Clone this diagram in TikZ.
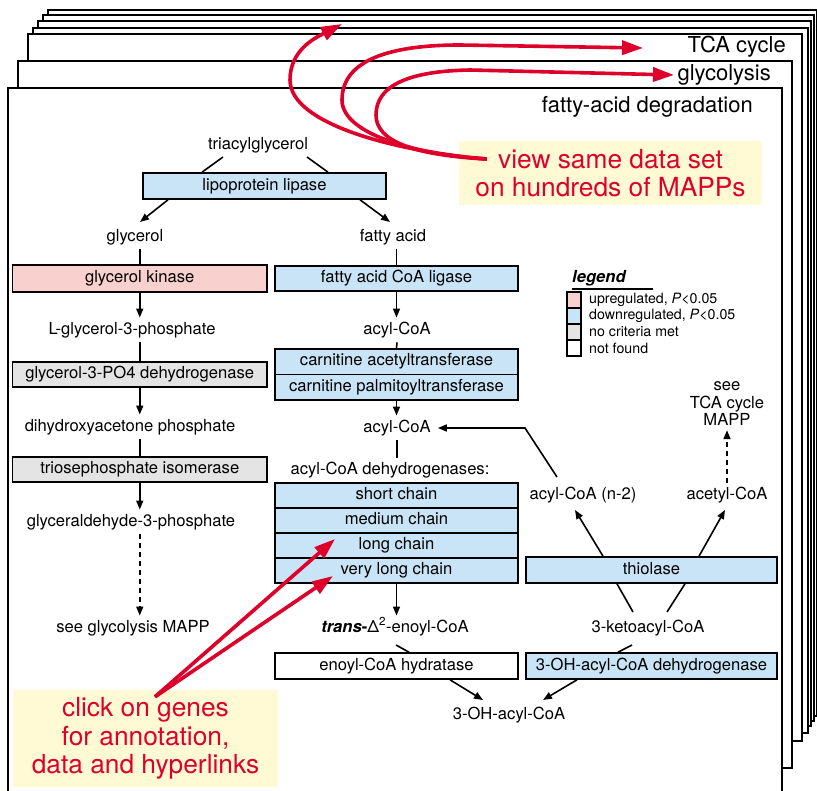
\documentclass[tikz,border=0pt]{standalone}
\usepackage{fontspec}
\setmainfont{TeX Gyre Heros}
\usetikzlibrary{arrows.meta,calc}
\definecolor{mred}{RGB}{222,0,43}
\definecolor{myellow}{RGB}{255,250,212}
\definecolor{mblue}{RGB}{200,228,246}
\definecolor{mpink}{RGB}{248,208,206}
\definecolor{mgray}{RGB}{228,228,228}
\begin{document}
\begin{tikzpicture}[x=1pt,y=-1pt,
  page/.style={draw=black,fill=white,line width=1.9pt},
  ptitle/.style={font=\fontsize{22}{24}\selectfont,inner sep=0pt,anchor=base east},
  txt/.style={font=\fontsize{16.6}{17.5}\selectfont,inner xsep=0pt,inner ysep=4.5pt,text height=12pt,text depth=3.5pt},
  gene/.style={draw=black,line width=1.6pt,inner sep=0pt,minimum height=25.5pt,text height=12pt,text depth=3.5pt,font=\fontsize{16.6}{17.5}\selectfont},
  wl/.style={minimum width=254.5pt},
  wr/.style={minimum width=243pt},
  wf/.style={minimum width=251pt},
  conn/.style={line width=1.6pt},
  arr/.style={conn,-{Triangle[length=9pt,width=7pt]}},
  darr/.style={arr,dash pattern=on 5pt off 4pt},
  redline/.style={draw=mred,line width=3.6pt,-{Triangle[length=21pt,width=14pt]}},
  callout/.style={fill=myellow,inner sep=0pt,align=center,text=mred,font=\fontsize{26.3}{28.5}\selectfont},
  lsq/.style={draw=black,line width=1.4pt,minimum width=14pt,minimum height=16pt,inner sep=0pt},
  ltxt/.style={font=\fontsize{14.2}{15}\selectfont,inner sep=0pt,anchor=west}
]
\useasboundingbox (0,0) rectangle (817,791);
\begin{scope}
\clip (0,0) rectangle (817,791);
% stacked pages (back to front)
\draw[page] (48,10) rectangle (817,716);
\draw[page] (43,15) rectangle (814,721);
\draw[page] (38,21) rectangle (811,726);
\draw[page] (33,28) rectangle (808,733);
\draw[page] (28,34) rectangle (802,741);
\draw[page] (18,61) rectangle (792,768);
\draw[page] (8,88) rectangle (782,800);
\end{scope}
\node[ptitle] (t3) at (786,53) {TCA cycle};
\node[ptitle] (t2) at (771,81) {glycolysis};
\node[ptitle] (t1) at (753,113) {fatty-acid degradation};

% callout boxes
\node[callout,minimum width=303pt,minimum height=64pt] (view) at (610.5,173) {view same data set\\on hundreds of MAPPs};
\node[callout,minimum width=265pt,minimum height=97pt] (click) at (145.5,738.5) {click on genes\\for annotation,\\data and hyperlinks};

% text nodes
\node[txt] (tri) at (258,145) {triacylglycerol};
\node[txt] (gly) at (135,237) {glycerol};
\node[txt] (fa) at (393,237) {fatty acid};
\node[txt] (lg3p) at (132,330) {L-glycerol-3-phosphate};
\node[txt] (dhap) at (130,427) {dihydroxyacetone phosphate};
\node[txt] (gap) at (131,522) {glyceraldehyde-3-phosphate};
\node[txt] (seegly) at (133,628) {see glycolysis MAPP};
\node[txt] (acyl1) at (397,330) {acyl-CoA};
\node[txt] (acyl2) at (397,428) {acyl-CoA};
\node[txt] (acdh) at (390,470) {acyl-CoA dehydrogenases:};
\node[txt] (trans) at (395,628) {\textbf{\textit{trans}-}\symbol{"0394}\textsuperscript{2}-enoyl-CoA};
\node[txt] (ohacyl) at (509,715) {3-OH-acyl-CoA};
\node[txt] (keto) at (648,628) {3-ketoacyl-CoA};
\node[txt] (acyln2) at (583,495) {acyl-CoA (n-2)};
\node[txt] (acetyl) at (727,495) {acetyl-CoA};
\node[font=\fontsize{16.6}{17.5}\selectfont,align=center,inner xsep=0pt,inner ysep=4pt] (seetca) at (727,404) {see\\TCA cycle\\MAPP};

% gene boxes
\node[gene,wr,fill=mblue,minimum height=26pt] (lip) at (264.5,186) {lipoprotein lipase};
\node[gene,wl,fill=mpink,minimum height=27pt] (gk) at (139.75,278.5) {glycerol kinase};
\node[gene,wr,fill=mblue] (facl) at (396.5,278.5) {fatty acid CoA ligase};
\node[gene,wl,fill=mgray] (g3pd) at (139.75,374.5) {glycerol-3-PO4 dehydrogenase};
\node[gene,wl,fill=mgray] (tpi) at (139.75,469.5) {triosephosphate isomerase};
\node[gene,wr,fill=mblue] (cat) at (396.5,361.75) {carnitine acetyltransferase};
\node[gene,wr,fill=mblue] (cpt) at (396.5,387.25) {carnitine palmitoyltransferase};
\node[gene,wr,fill=mblue,minimum height=25pt] (sc) at (396.5,495.5) {short chain};
\node[gene,wr,fill=mblue,minimum height=25pt] (mc) at (396.5,520.5) {medium chain};
\node[gene,wr,fill=mblue,minimum height=25pt] (lc) at (396.5,545.5) {long chain};
\node[gene,wr,fill=mblue,minimum height=25pt] (vlc) at (396.5,570.5) {very long chain};
\node[gene,wr,fill=white,minimum height=26pt] (ech) at (396.5,666) {enoyl-CoA hydratase};
\node[gene,wf,fill=mblue,minimum height=26pt] (hadh) at (651.5,666) {3-OH-acyl-CoA dehydrogenase};
\node[gene,wf,fill=mblue,minimum height=26pt] (thio) at (651.5,570) {thiolase};

% legend
\node[font=\fontsize{16.6}{17.5}\bfseries\itshape\selectfont,inner sep=0pt,anchor=base west] (legt) at (572,283) {legend};
\draw[line width=1.6pt] ($(legt.base west)+(0,6)$) -- ++(81,0);
\node[lsq,fill=mpink] (lq1) at (574,300) {};
\node[lsq,fill=mblue] (lq2) at (574,316) {};
\node[lsq,fill=mgray] (lq3) at (574,332) {};
\node[lsq,fill=white] (lq4) at (574,348) {};
\node[ltxt] (lt1) at (589,300) {upregulated, \textit{P}<0.05};
\node[ltxt] (lt2) at (589,316) {downregulated, \textit{P}<0.05};
\node[ltxt] (lt3) at (589,332) {no criteria met};
\node[ltxt] (lt4) at (589,348) {not found};

% connectors left column
\draw[conn] ($(tri)+(-35,12)$) -- ($(lip.north)+(-62.5,0)$);
\draw[conn] ($(tri)+(49,12)$) -- ($(lip.north)+(63.5,0)$);
\draw[arr] ($(lip.south)+(-96.5,0)$) -- ($(gly)+(5,-15)$);
\draw[arr] ($(lip.south)+(95.5,0)$) -- ($(fa)+(-3,-15)$);
\draw[conn] (gk.north |- gly.south) -- (gk.north);
\draw[arr] (gk.south) -- (gk.south |- lg3p.north);
\draw[conn] (g3pd.north |- lg3p.south) -- (g3pd.north);
\draw[arr] (g3pd.south) -- (g3pd.south |- dhap.north);
\draw[conn] (tpi.north |- dhap.south) -- (tpi.north);
\draw[arr] (tpi.south) -- (tpi.south |- gap.north);
\draw[darr] (tpi.south |- gap.south) -- (tpi.south |- seegly.north);
% connectors middle column
\draw[conn] (facl.north |- fa.south) -- (facl.north);
\draw[arr] (facl.south) -- (facl.south |- acyl1.north);
\draw[conn] (acyl1.south) -- (cat.north);
\draw[arr] (cpt.south) -- (cpt.south |- acyl2.north);
\draw[conn] (acyl2.south) -- (acyl2.south |- acdh.north);
\draw[arr] (vlc.south) -- (vlc.south |- trans.north);
\draw[conn] ($(trans)+(1,17)$) -- ($(ech.north)+(12.5,0)$);
\draw[arr] ($(ech.south)+(53.5,0)$) -- ($(ohacyl)+(-26,-15)$);
% connectors right column
\draw[conn] ($(keto)+(-16,17)$) -- ($(hadh.north)+(-33.5,0)$);
\draw[arr] ($(hadh.south)+(-74.5,0)$) -- ($(ohacyl)+(34,-15)$);
\draw[conn] ($(keto)+(-15,-16)$) -- ($(thio.south)+(-34.5,0)$);
\draw[conn] ($(keto)+(19,-16)$) -- ($(thio.south)+(33.5,0)$);
\draw[arr] ($(thio.north)+(-48.5,0)$) -- ($(acyln2)+(-8,15)$);
\draw[arr] ($(thio.north)+(47.5,0)$) -- ($(acetyl)+(-2,15)$);
\draw[arr] ($(acyln2)+(-26,-18)$) -- ($(acyl2)+(128,0)$) -- ($(acyl2.east)+(7,0)$);
\draw[darr] (acetyl.north) -- (seetca.south);

% red callout arrows
\coordinate (stem) at ($(view.west)+(28,-14)$);
\coordinate (tipA) at (342,24);
\coordinate (tipB) at (643,48);
\coordinate (tipC) at (674,75);
\draw[redline] (stem) .. controls (400,152) and (290,125) .. (290,80) .. controls (290,50) and (315,38) .. (tipA);
\draw[redline] (stem) .. controls (420,155) and (342,135) .. (342,100) .. controls (342,60) and (390,45) .. (460,45) -- (tipB);
\draw[redline] (stem) .. controls (410,155) and (376,140) .. (376,115) .. controls (376,85) and (410,71) .. (470,70) -- (tipC);
\coordinate (cs) at ($(click.north)+(9.5,7)$);
\draw[redline] (cs) -- ($(lc.center)+(-61.5,-6.5)$);
\draw[redline] (cs) -- ($(vlc.center)+(-63.5,5.5)$);
\end{tikzpicture}
\end{document}
